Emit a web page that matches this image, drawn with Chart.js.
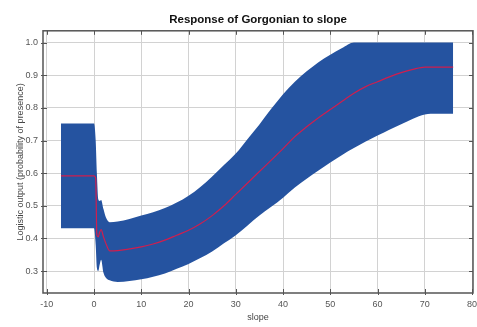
<!DOCTYPE html>
<html>
<head>
<meta charset="utf-8">
<script src="https://cdn.jsdelivr.net/npm/chart.js@4.4.0/dist/chart.umd.min.js"></script>
<style>
  html, body { margin: 0; padding: 0; background: #fff; }
  #wrap { width: 477px; height: 327px; }
</style>
</head>
<body>
<div id="wrap"><canvas id="chart" width="477" height="327"></canvas></div>
<script>
// --- data ---
const slope = [-7, 0, 0.35, 0.6, 0.9, 1.2, 1.5, 2, 2.5, 3.3, 5, 7.5, 10, 12.5, 15, 17.5, 20, 22.5, 25, 27.5, 30, 32.5, 35, 37.5, 40, 42.5, 45, 47.5, 50, 52.5, 55, 57.5, 60, 62.5, 65, 67.5, 70, 72.5, 76]
const meanResp = [0.592, 0.592, 0.585, 0.41, 0.405, 0.42, 0.427, 0.405, 0.385, 0.362, 0.363, 0.368, 0.374, 0.383, 0.395, 0.41, 0.425, 0.445, 0.47, 0.5, 0.535, 0.57, 0.605, 0.64, 0.675, 0.712, 0.742, 0.77, 0.795, 0.82, 0.845, 0.865, 0.88, 0.895, 0.908, 0.918, 0.925, 0.925, 0.925]
const upperResp = [0.752, 0.752, 0.70, 0.60, 0.52, 0.515, 0.518, 0.49, 0.465, 0.45, 0.452, 0.46, 0.47, 0.48, 0.493, 0.51, 0.531, 0.558, 0.59, 0.625, 0.66, 0.705, 0.749, 0.797, 0.842, 0.88, 0.912, 0.94, 0.963, 0.983, 1.0, 1.0, 1.0, 1.0, 1.0, 1.0, 1.0, 1.0, 1.0]
const lowerResp = [0.431, 0.431, 0.38, 0.31, 0.30, 0.32, 0.335, 0.295, 0.28, 0.272, 0.267, 0.27, 0.275, 0.283, 0.293, 0.307, 0.322, 0.34, 0.36, 0.385, 0.41, 0.44, 0.47, 0.497, 0.525, 0.556, 0.583, 0.608, 0.633, 0.656, 0.677, 0.697, 0.715, 0.733, 0.75, 0.767, 0.78, 0.782, 0.782]
const xTicks = [-10, 0, 10, 20, 30, 40, 50, 60, 70, 80]
const yTicks = [0.3, 0.4, 0.5, 0.6, 0.7, 0.8, 0.9, 1.0]

const toPoints = (vals) => vals.map((v, i) => ({ x: slope[i], y: v }))

const bandBlue = '#2553a0'
const lineRed = '#d01e4e'
const gridGray = '#d2d2d2'
const frameGray = '#555555'
const font = 'Liberation Sans, Arial, sans-serif'

// frame round the plot plus small inward ticks on all four sides
const framePlugin = {
  id: 'frame',
  afterDraw(chart) {
    const { ctx, chartArea: a, scales: { x, y } } = chart
    ctx.save()
    ctx.strokeStyle = frameGray
    ctx.lineWidth = 1
    ctx.beginPath()
    for (const t of x.ticks) {
      const px = Math.round(x.getPixelForValue(t.value)) + 0.5
      ctx.moveTo(px, a.bottom + 2); ctx.lineTo(px, a.bottom - 4)
      ctx.moveTo(px, a.top); ctx.lineTo(px, a.top + 4)
    }
    for (const t of y.ticks) {
      const py = Math.round(y.getPixelForValue(t.value)) + 0.5
      ctx.moveTo(a.left - 2, py); ctx.lineTo(a.left + 4, py)
      ctx.moveTo(a.right, py); ctx.lineTo(a.right - 4, py)
    }
    ctx.stroke()
    ctx.lineWidth = 1.5
    ctx.strokeRect(a.left, a.top, a.right - a.left, a.bottom - a.top)
    ctx.restore()
  }
}

new Chart(document.getElementById('chart').getContext('2d'), {
  type: 'line',
  data: {
    datasets: [
      { label: 'mean', data: toPoints(meanResp), borderColor: lineRed, borderWidth: 1.2, pointRadius: 0, fill: false, cubicInterpolationMode: 'monotone' },
      { label: 'upper', data: toPoints(upperResp), borderColor: bandBlue, borderWidth: 0, backgroundColor: bandBlue, pointRadius: 0, fill: '+1', cubicInterpolationMode: 'monotone' },
      { label: 'lower', data: toPoints(lowerResp), borderColor: bandBlue, borderWidth: 0, pointRadius: 0, fill: false, cubicInterpolationMode: 'monotone' }
    ]
  },
  options: {
    responsive: false, animation: false, devicePixelRatio: 1,
    layout: { padding: { left: 0, right: 4, top: 0, bottom: 0 } },
    plugins: {
      legend: { display: false },
      tooltip: { enabled: false },
      title: {
        display: true, text: 'Response of Gorgonian to slope', fullSize: false,
        color: '#111', font: { family: font, size: 11.5, weight: 'bold' },
        padding: { top: 13, bottom: 4 }
      }
    },
    scales: {
      x: {
        type: 'linear', min: -10.8, max: 80.2,
        afterBuildTicks: s => { s.ticks = xTicks.map(v => ({ value: v })) },
        afterFit: s => { s.height = 34; s.paddingLeft = 0; s.paddingRight = 0 },
        grid: { color: gridGray, drawTicks: false },
        border: { display: false },
        ticks: { color: '#555', padding: 6, font: { family: font, size: 9 }, maxRotation: 0, callback: v => String(v) },
        title: { display: true, text: 'slope', color: '#444', font: { family: font, size: 9 }, padding: { top: 0, bottom: 4 } }
      },
      y: {
        type: 'linear', min: 0.233, max: 1.036,
        afterBuildTicks: s => { s.ticks = yTicks.map(v => ({ value: v })) },
        afterFit: s => { s.width = 43; s.paddingTop = 0; s.paddingBottom = 0 },
        grid: { color: gridGray, drawTicks: false },
        border: { display: false },
        ticks: { color: '#555', padding: 5, font: { family: font, size: 9 }, callback: v => v.toFixed(1) },
        title: { display: true, text: 'Logistic output (probability of presence)', color: '#444', font: { family: font, size: 9 }, padding: { top: 15, bottom: 0 } }
      }
    }
  },
  plugins: [framePlugin]
})
</script>
</body>
</html>
